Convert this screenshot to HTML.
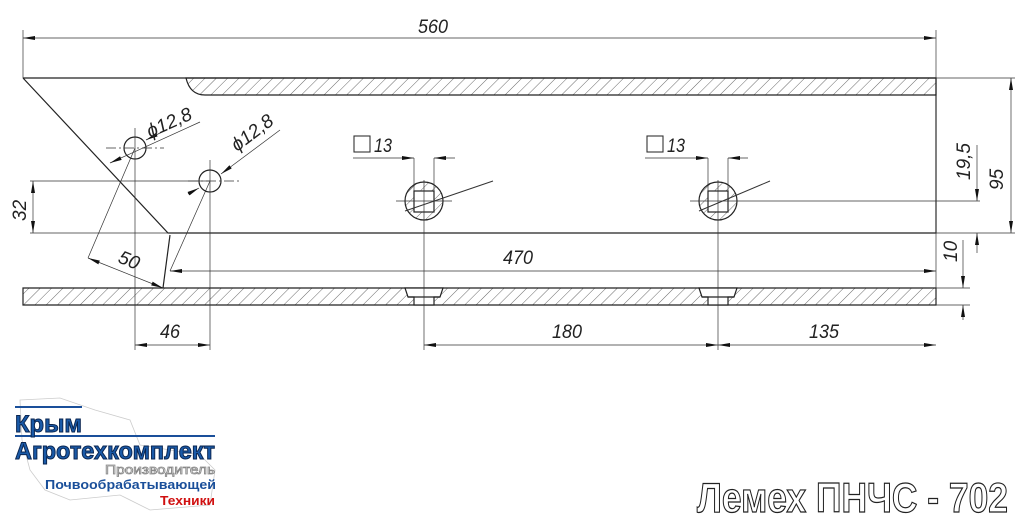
<!DOCTYPE html>
<html><head><meta charset="utf-8"><style>
html,body{margin:0;padding:0;background:#fff;width:1024px;height:528px;overflow:hidden}
svg text{font-family:"Liberation Sans","DejaVu Sans",sans-serif}
.dim{font-family:"Liberation Sans",sans-serif;font-style:italic;font-size:19px;fill:#222}
</style></head><body>
<svg width="1024" height="528" viewBox="0 0 1024 528" xmlns="http://www.w3.org/2000/svg">
<defs>
<pattern id="h" patternUnits="userSpaceOnUse" width="8" height="8" patternTransform="rotate(45)">
<line x1="0" y1="0" x2="0" y2="8" stroke="#444" stroke-width="0.8"/>
</pattern>
<marker id="a" viewBox="0 0 12 6" refX="12" refY="3" markerWidth="12" markerHeight="6" orient="auto-start-reverse" markerUnits="userSpaceOnUse">
<path d="M0,1 L12,3 L0,5 Z" fill="#111"/>
</marker>
</defs>
<g stroke="#222" fill="none" stroke-width="1.2">
<path d="M23,78 L936,78 L936,233 L168,233 L23,78"/>
<path d="M186,78 Q190,95 205,95 L936,95 L936,78 Z" fill="url(#h)"/>
<path d="M170,235 L163,288"/>
<path d="M23,288 L936,288 L936,305 L23,305 Z" fill="url(#h)"/>
<path d="M405,288 L408,297 L414,297 L414,305 L434,305 L434,297 L440,297 L443,288 Z" fill="#fff"/>
<path d="M699,288 L702,297 L708,297 L708,305 L728,305 L728,297 L734,297 L737,288 Z" fill="#fff"/>
<line x1="408" y1="297" x2="440" y2="297"/>
<line x1="702" y1="297" x2="734" y2="297"/>
<circle cx="135" cy="148" r="11" fill="#fff"/>
<circle cx="210" cy="181" r="11" fill="#fff"/>
<circle cx="424" cy="201" r="19" fill="url(#h)"/>
<rect x="414" y="191" width="20" height="21" fill="#fff"/>
<circle cx="718" cy="201" r="19" fill="url(#h)"/>
<rect x="708" y="191" width="20" height="21" fill="#fff"/>
</g>
<g stroke="#333" fill="none" stroke-width="0.7">
<line x1="106" y1="148" x2="164" y2="148" stroke-dasharray="10,3,2,3"/>
<line x1="135" y1="128" x2="135" y2="350"/>
<line x1="188" y1="181" x2="240" y2="181" stroke-dasharray="10,3,2,3"/>
<line x1="210" y1="160" x2="210" y2="350"/>
<line x1="396" y1="201" x2="452" y2="201"/>
<line x1="424" y1="180" x2="424" y2="350"/>
<line x1="690" y1="201" x2="980" y2="201"/>
<line x1="718" y1="180" x2="718" y2="350"/>
<line x1="405" y1="211" x2="493" y2="181" stroke-width="1"/>
<line x1="699" y1="211" x2="770" y2="181" stroke-width="1"/>
<line x1="23" y1="30" x2="23" y2="78"/>
<line x1="936" y1="30" x2="936" y2="290"/>
<line x1="23" y1="38" x2="936" y2="38" marker-start="url(#a)" marker-end="url(#a)"/>
<line x1="110" y1="163" x2="200" y2="122" marker-start="url(#a)"/>
<line x1="146" y1="140" x2="160" y2="133" marker-start="url(#a)"/>
<line x1="188" y1="194" x2="199" y2="188" marker-end="url(#a)"/>
<line x1="221" y1="174" x2="280" y2="130" marker-start="url(#a)"/>
<line x1="30" y1="181" x2="210" y2="181"/>
<line x1="30" y1="233" x2="168" y2="233"/>
<line x1="33" y1="181" x2="33" y2="233" marker-start="url(#a)" marker-end="url(#a)"/>
<line x1="135" y1="148" x2="88" y2="258"/>
<line x1="210" y1="181" x2="170" y2="271"/>
<line x1="88" y1="258" x2="163" y2="288" marker-start="url(#a)" marker-end="url(#a)"/>
<line x1="170" y1="271" x2="936" y2="271" marker-start="url(#a)" marker-end="url(#a)"/>
<line x1="135" y1="345" x2="210" y2="345" marker-start="url(#a)" marker-end="url(#a)"/>
<line x1="424" y1="345" x2="718" y2="345" marker-start="url(#a)" marker-end="url(#a)"/>
<line x1="718" y1="345" x2="936" y2="345" marker-start="url(#a)" marker-end="url(#a)"/>
<line x1="414" y1="158" x2="414" y2="191"/><line x1="434" y1="158" x2="434" y2="191"/>
<line x1="353" y1="158" x2="414" y2="158" marker-end="url(#a)"/>
<line x1="455" y1="158" x2="434" y2="158" marker-end="url(#a)"/>
<line x1="708" y1="158" x2="708" y2="191"/><line x1="728" y1="158" x2="728" y2="191"/>
<line x1="645" y1="158" x2="708" y2="158" marker-end="url(#a)"/>
<line x1="748" y1="158" x2="728" y2="158" marker-end="url(#a)"/>
<rect x="354" y="136" width="16" height="16" stroke-width="1.1"/>
<rect x="647" y="136" width="16" height="16" stroke-width="1.1"/>
<line x1="936" y1="78" x2="1015" y2="78"/>
<line x1="936" y1="233" x2="1015" y2="233"/>
<line x1="1011" y1="78" x2="1011" y2="233" marker-start="url(#a)" marker-end="url(#a)"/>
<line x1="977" y1="145" x2="977" y2="201" marker-end="url(#a)"/>
<line x1="977" y1="253" x2="977" y2="233" marker-end="url(#a)"/>
<line x1="936" y1="288" x2="970" y2="288"/>
<line x1="936" y1="305" x2="970" y2="305"/>
<line x1="963" y1="240" x2="963" y2="288" marker-end="url(#a)"/>
<line x1="963" y1="320" x2="963" y2="305" marker-end="url(#a)"/>
</g>
<g class="dim">
<text x="418" y="33" textLength="30" lengthAdjust="spacingAndGlyphs">560</text>
<text x="503" y="264" textLength="30" lengthAdjust="spacingAndGlyphs">470</text>
<text x="160" y="338" textLength="20" lengthAdjust="spacingAndGlyphs">46</text>
<text x="552" y="338" textLength="30" lengthAdjust="spacingAndGlyphs">180</text>
<text x="809" y="338" textLength="30" lengthAdjust="spacingAndGlyphs">135</text>
<text x="374" y="152" textLength="18" lengthAdjust="spacingAndGlyphs">13</text>
<text x="667" y="152" textLength="18" lengthAdjust="spacingAndGlyphs">13</text>
<text transform="translate(26,221) rotate(-90)">32</text>
<text transform="translate(117,262) rotate(22)">50</text>
<text transform="translate(150,138) rotate(-24)">ϕ12,8</text>
<text transform="translate(237,152) rotate(-37)">ϕ12,8</text>
<text transform="translate(970,180) rotate(-90)">19,5</text>
<text transform="translate(1003,190) rotate(-90)">95</text>
<text transform="translate(957,262) rotate(-90)">10</text>
</g>
<path d="M20,400 L60,398 L95,410 L130,420 L140,445 L200,455 L215,470 L210,505 L150,510 L120,495 L70,500 L45,490 L30,470 L22,440 Z" fill="none" stroke="#ccc" stroke-width="0.8"/>
<line x1="15" y1="407" x2="82" y2="407" stroke="#1a4f9a" stroke-width="2"/>
<line x1="15" y1="436" x2="215" y2="436" stroke="#1a4f9a" stroke-width="2"/>
<text x="15" y="432" font-size="24" font-weight="bold" fill="#1a5aa8" stroke="#0a2550" stroke-width="1" textLength="67" lengthAdjust="spacingAndGlyphs">Крым</text>
<text x="15" y="459" font-size="24" font-weight="bold" fill="#1a5aa8" stroke="#0a2550" stroke-width="1" textLength="200" lengthAdjust="spacingAndGlyphs">Агротехкомплект</text>
<text x="105" y="474" font-size="13" fill="#fff" stroke="#888" stroke-width="0.8" textLength="110" lengthAdjust="spacingAndGlyphs">Производитель</text>
<text x="45" y="489" font-size="13" font-weight="bold" fill="#1a4f9a" textLength="171" lengthAdjust="spacingAndGlyphs">Почвообрабатывающей</text>
<text x="160" y="505" font-size="13" font-weight="bold" fill="#d01010" textLength="55" lengthAdjust="spacingAndGlyphs">Техники</text>
<text x="697" y="512" font-size="42" font-weight="bold" fill="#fff" stroke="#222" stroke-width="1.2" textLength="311" lengthAdjust="spacingAndGlyphs">Лемех ПНЧС - 702</text>
</svg>
</body></html>
